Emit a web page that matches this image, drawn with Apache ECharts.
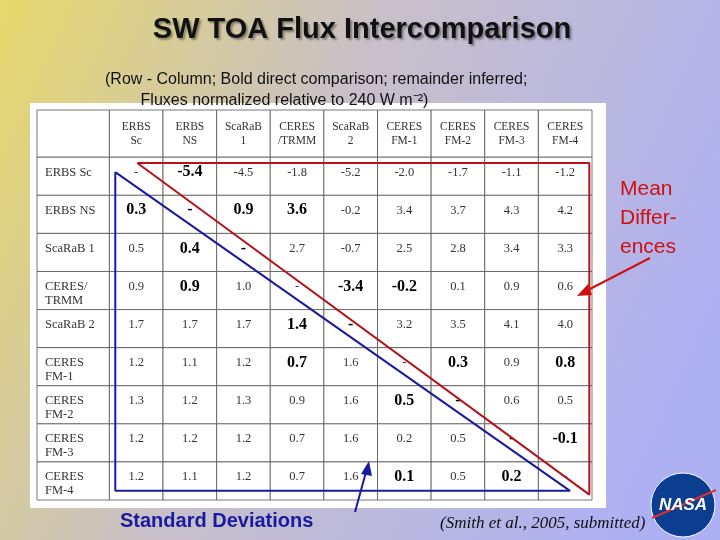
<!DOCTYPE html>
<html><head><meta charset="utf-8">
<script src="https://cdn.jsdelivr.net/npm/echarts@6/dist/echarts.min.js"></script>
<style>html,body{margin:0;padding:0;}#c{width:720px;height:540px;}</style>
</head><body><div id="c"></div>
<script>
var colHeads = ['ERBS\nSc','ERBS\nNS','ScaRaB\n1','CERES\n/TRMM','ScaRaB\n2','CERES\nFM-1','CERES\nFM-2','CERES\nFM-3','CERES\nFM-4'];
var rowHeads = ['ERBS Sc','ERBS NS','ScaRaB 1','CERES/\nTRMM','ScaRaB 2','CERES\nFM-1','CERES\nFM-2','CERES\nFM-3','CERES\nFM-4'];
var values = [
  ['-','-5.4','-4.5','-1.8','-5.2','-2.0','-1.7','-1.1','-1.2'],
  ['0.3','-','0.9','3.6','-0.2','3.4','3.7','4.3','4.2'],
  ['0.5','0.4','-','2.7','-0.7','2.5','2.8','3.4','3.3'],
  ['0.9','0.9','1.0','-','-3.4','-0.2','0.1','0.9','0.6'],
  ['1.7','1.7','1.7','1.4','-','3.2','3.5','4.1','4.0'],
  ['1.2','1.1','1.2','0.7','1.6','-','0.3','0.9','0.8'],
  ['1.3','1.2','1.3','0.9','1.6','0.5','-','0.6','0.5'],
  ['1.2','1.2','1.2','0.7','1.6','0.2','0.5','-','-0.1'],
  ['1.2','1.1','1.2','0.7','1.6','0.1','0.5','0.2','-']
];
// bold = direct comparison
var boldCells = [[0,1],[1,0],[1,1],[1,2],[1,3],[2,1],[2,2],[3,1],[3,4],[3,5],[4,3],[4,4],
  [5,3],[5,6],[5,8],[6,5],[6,6],[7,7],[7,8],[8,5],[8,7]];
var redLine = [[1.87,1.39],[10.3,1.39],[10.3,10.1],[1.87,1.39]];
var blueLine = [[1.46,1.63],[1.46,10.0],[9.94,10.0],[1.46,1.63]];

var FW = 1.35, HH = 1.24;
function isBold(r,c){ return boldCells.some(function(b){return b[0]===r&&b[1]===c;}); }
var cells = [];
cells.push([0,0,FW,HH,'','h']);
colHeads.forEach(function(h,c){ cells.push([FW+c,0,1,HH,h,'h']); });
rowHeads.forEach(function(h,r){
  cells.push([0,HH+r,FW,1,h,'r']);
  values[r].forEach(function(v,c){ cells.push([FW+c,HH+r,1,1,v,isBold(r,c)?'b':'n']); });
});

var chart = echarts.init(document.getElementById('c'));
chart.setOption({
  backgroundColor: {type:'linear',x:0,y:0,x2:1,y2:0.6,colorStops:[{offset:0,color:'#e6d86a'},{offset:0.45,color:'#c8c0c8'},{offset:1,color:'#aeb0f4'}]},
  title: [
    {text:'SW TOA Flux Intercomparison',left:357,top:10,textAlign:'center',
     textStyle:{fontFamily:'Liberation Sans',fontWeight:'bold',fontSize:29,color:'#111',textShadowColor:'rgba(0,0,0,0.35)',textShadowOffsetX:2,textShadowOffsetY:2,textShadowBlur:2}},
    {text:'(Row - Column; Bold direct comparison; remainder inferred;\n        Fluxes normalized relative to 240 W m\u207B\u00B2)',left:100,top:64,
     textStyle:{fontFamily:'Liberation Sans',fontWeight:'normal',fontSize:16,color:'#111',lineHeight:21}}
  ],
  grid:{left:37,right:128,top:110,bottom:40},
  xAxis:{type:'value',min:0,max:FW+9,show:false},
  yAxis:{type:'value',min:0,max:HH+9,inverse:true,show:false},
  series:[
    {type:'custom',data:cells,renderItem:function(p,api){
      var x=api.value(0),y=api.value(1),w=api.value(2),h=api.value(3);
      var d=cells[p.dataIndex];
      var a=api.coord([x,y]),b=api.coord([x+w,y+h]);
      var k=d[5];
      var fs=k==='b'?16:(k==='h'?11.5:12.5);
      var left=k==='r';
      return {type:'group',children:[
        {type:'rect',shape:{x:a[0],y:a[1],width:b[0]-a[0],height:b[1]-a[1]},style:{fill:'#fff',stroke:'#555',lineWidth:0.8}},
        {type:'text',style:{text:d[4],x:left?a[0]+8:(a[0]+b[0])/2,y:a[1]+(k==='h'?10:8),
          align:left?'left':'center',verticalAlign:'top',fontFamily:'Liberation Serif',
          fontSize:fs,fontWeight:k==='b'?'bold':'normal',fill:k==='b'?'#000':'#333',lineHeight:14}}
      ]};
    },z:1},
    {type:'line',data:redLine,symbol:'none',lineStyle:{color:'#b5121b',width:2},z:3,silent:true},
    {type:'line',data:blueLine,symbol:'none',lineStyle:{color:'#1a1aa0',width:2},z:3,silent:true}
  ],
  graphic:[
    {type:'rect',shape:{x:30,y:103,width:576,height:405},style:{fill:'#fff'},z:-1},
    {type:'text',style:{text:'Mean\nDiffer-\nences',x:620,y:175,fontFamily:'Liberation Sans',fontSize:21,fill:'#d01010',lineHeight:29}},
    {type:'line',z:10,shape:{x1:650,y1:258,x2:586,y2:291},style:{stroke:'#d01010',lineWidth:2}},
    {type:'polygon',z:10,shape:{points:[[577,296],[588,284],[592,295]]},style:{fill:'#d01010'}},
    {type:'text',style:{text:'Standard Deviations',x:120,y:511,fontFamily:'Liberation Sans',fontSize:20,fontWeight:'bold',fill:'#1a1aa0'}},
    {type:'line',z:10,shape:{x1:355,y1:512,x2:366,y2:472},style:{stroke:'#1a1aa0',lineWidth:2}},
    {type:'polygon',z:10,shape:{points:[[369,461],[361,474],[372,476]]},style:{fill:'#1a1aa0'}},
    {type:'text',style:{text:'(Smith et al., 2005, submitted)',x:440,y:515,fontFamily:'Liberation Serif',fontSize:17,fontStyle:'italic',fill:'#111'}},
    {type:'circle',shape:{cx:683,cy:505,r:32},style:{fill:'#0b3d91',stroke:'#fff',lineWidth:1}},
    {type:'line',shape:{x1:652,y1:518,x2:716,y2:490},style:{stroke:'#e03030',lineWidth:2}},
    {type:'text',style:{text:'NASA',x:683,y:505,align:'center',verticalAlign:'middle',fontFamily:'Liberation Sans',fontSize:17,fontWeight:'bold',fontStyle:'italic',fill:'#fff'}}
  ]
});
</script></body></html>
